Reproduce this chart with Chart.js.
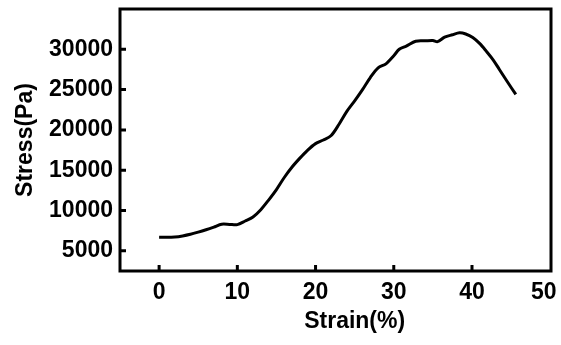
<!DOCTYPE html>
<html>
<head>
<meta charset="utf-8">
<script src="https://cdn.jsdelivr.net/npm/chart.js@4/dist/chart.umd.min.js"></script>
<style>
  html, body { margin: 0; padding: 0; background: #fff; }
  #wrap { width: 561px; height: 345px; position: relative; }
</style>
</head>
<body>
<div id="wrap"><canvas id="c" width="561" height="345"></canvas></div>
<script>
const strain = [0, 1, 2, 3, 4, 5, 6, 7, 8, 9, 10, 11, 12, 13, 14, 15, 16, 17, 18, 19, 20, 21, 22, 23, 24, 25, 26, 27, 28, 29, 30, 30.7, 31.6, 32.8, 34, 35, 35.6, 36.5, 37.5, 38.4, 39.2, 40.1, 41, 41.8, 42.7, 43.5, 44.5, 45.6];
const stress = [6700, 6680, 6720, 6850, 7050, 7320, 7620, 7950, 8300, 8280, 8250, 8700, 9200, 10100, 11300, 12600, 14100, 15400, 16500, 17500, 18300, 18750, 19300, 20700, 22300, 23600, 25000, 26500, 27700, 28200, 29200, 30000, 30400, 31000, 31050, 31100, 30950, 31500, 31800, 32050, 31900, 31460, 30700, 29800, 28700, 27500, 26000, 24400];
const xTicks = [0, 10, 20, 30, 40, 50];
const yTicks = [5000, 10000, 15000, 20000, 25000, 30000];
const xTitle = 'Strain(%)';
const yTitle = 'Stress(Pa)';

const FONT = 'Liberation Sans, Arial, sans-serif';

const frame = {
  id: 'frame',
  afterDraw(chart) {
    const { ctx, chartArea: a, scales } = chart;
    ctx.save();
    ctx.strokeStyle = '#000';
    ctx.lineWidth = 3;
    ctx.strokeRect(a.left, a.top, a.right - a.left, a.bottom - a.top);
    ctx.beginPath();
    xTicks.forEach(v => {
      if (v === 50) return;
      const px = scales.x.getPixelForValue(v);
      ctx.moveTo(px, a.bottom);
      ctx.lineTo(px, a.bottom - 6);
    });
    yTicks.forEach(v => {
      const py = scales.y.getPixelForValue(v);
      ctx.moveTo(a.left, py);
      ctx.lineTo(a.left + 6, py);
    });
    ctx.stroke();
    const cx = (scales.x.getPixelForValue(xTicks[0]) + scales.x.getPixelForValue(xTicks[xTicks.length - 1])) / 2;
    ctx.fillStyle = '#000';
    ctx.font = 'bold 23px ' + FONT;
    ctx.textAlign = 'center';
    ctx.textBaseline = 'middle';
    ctx.fillText(xTitle, cx, 322);
    ctx.restore();
  }
};

new Chart(document.getElementById('c'), {
  type: 'line',
  data: {
    datasets: [{
      data: strain.map((x, i) => ({ x, y: stress[i] })),
      borderColor: '#000',
      borderWidth: 3,
      pointRadius: 0,
      tension: 0.3,
      fill: false
    }]
  },
  options: {
    responsive: false,
    animation: false,
    devicePixelRatio: 1,
    layout: { padding: { left: 0, top: 9, right: 10, bottom: 0 } },
    plugins: { legend: { display: false }, tooltip: { enabled: false } },
    scales: {
      x: {
        type: 'linear',
        min: -5,
        max: 50.1,
        afterFit(s) { s.height = 74; s.paddingLeft = 0; s.paddingRight = 0; },
        afterBuildTicks(s) { s.ticks = xTicks.map(v => ({ value: v })); },
        grid: { display: false, drawTicks: false },
        border: { display: false },
        ticks: {
          color: '#000', padding: 8, maxRotation: 0,
          callback: v => (v === xTicks[xTicks.length - 1] ? String(v) + '\u00a0\u00a0' : String(v)),
          font: { family: FONT, size: 23, weight: 'bold' }
        }
      },
      y: {
        type: 'linear',
        min: 2500,
        max: 35000,
        afterFit(s) { s.width = 120; s.paddingTop = 0; s.paddingBottom = 0; },
        afterBuildTicks(s) { s.ticks = yTicks.map(v => ({ value: v })); },
        grid: { display: false, drawTicks: false },
        border: { display: false },
        ticks: { color: '#000', padding: 7, callback: v => String(v), font: { family: FONT, size: 23, weight: 'bold' } },
        title: { display: true, text: yTitle, color: '#000', padding: { top: 12, bottom: 0 }, font: { family: FONT, size: 23, weight: 'bold' } }
      }
    }
  },
  plugins: [frame]
});
</script>
</body>
</html>
